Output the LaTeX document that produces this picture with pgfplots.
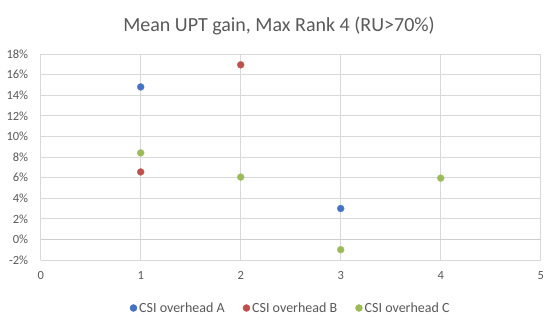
\documentclass[border=0pt]{standalone}
\usepackage{pgfplots}
\pgfplotsset{compat=1.18}
\usepackage{fontspec}
\setmainfont{Carlito}
\definecolor{cA}{HTML}{4472C4}
\definecolor{cB}{HTML}{C0504D}
\definecolor{cC}{HTML}{9BBB59}
\definecolor{gridc}{HTML}{D9D9D9}
\definecolor{txt}{HTML}{595959}
\begin{document}
\begin{tikzpicture}[x=1pt,y=1pt]
\path[use as bounding box] (0,0) rectangle (558,327);
\node[text=txt,font=\fontsize{20}{24}\selectfont] at (279,301) {Mean UPT gain, Max Rank 4 (RU>70\%)};
\begin{axis}[
  at={(40.7pt,67pt)}, anchor=south west,
  scale only axis, width=500pt, height=206pt,
  xmin=0, xmax=5, ymin=-2, ymax=18,
  xtick={0,1,2,3,4,5}, ytick={-2,0,2,4,6,8,10,12,14,16,18},
  yticklabel={\pgfmathprintnumber{\tick}\%},
  /pgf/number format/assume math mode=true,
  tick style={draw=none},
  grid=major,
  grid style={gridc, line width=0.8pt},
  axis line style={gridc, densely dotted, line width=0.8pt},
  ticklabel style={text=txt, font=\fontsize{12.5}{14}\selectfont},
  yticklabel style={xshift=-9pt},
  xticklabel style={yshift=-8pt},
  legend style={at={(0.5,-0.233)}, anchor=center, draw=none, legend columns=3,
    font=\fontsize{14}{16}\selectfont, text=txt,
    nodes={inner xsep=2pt},
    /tikz/every even column/.append style={column sep=16pt}},
  legend image code/.code={\fill[#1] (0pt,0pt) circle (3.5pt);},
  legend cell align=left,
]
\draw[color=gridc!80!black!60, line width=0.8pt] (axis cs:0,0) -- (axis cs:5,0);
\addplot[only marks, mark=*, mark size=3.5pt, color=cA, mark options={draw=cA!85!white, fill=cA}] coordinates {(1,14.8) (3,3.0)};
\addlegendentry{CSI overhead A}
\addplot[only marks, mark=*, mark size=3.5pt, color=cB, mark options={draw=cB!85!white, fill=cB}] coordinates {(1,6.55) (2,16.95)};
\addlegendentry{CSI overhead B}
\addplot[only marks, mark=*, mark size=3.5pt, color=cC, mark options={draw=cC!85!white, fill=cC}] coordinates {(1,8.4) (2,6.05) (3,-1.0) (4,5.95)};
\addlegendentry{CSI overhead C}
\end{axis}
\end{tikzpicture}
\end{document}
